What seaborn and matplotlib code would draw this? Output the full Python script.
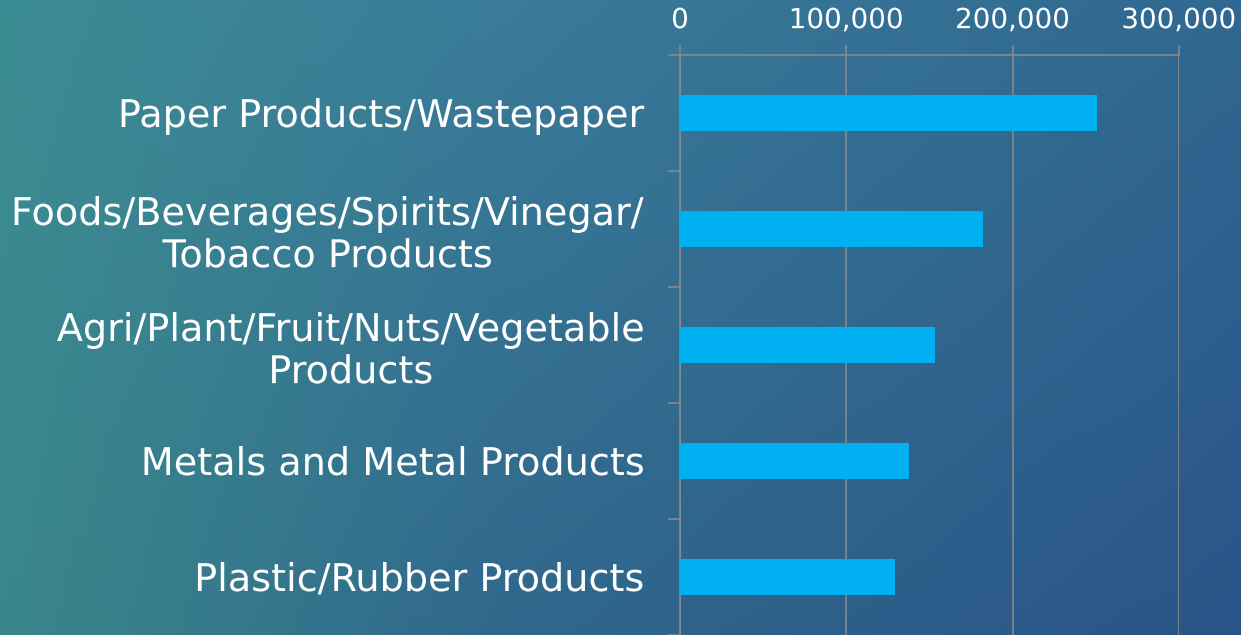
import numpy as np
import pandas as pd
import matplotlib
matplotlib.use("Agg")
import matplotlib.pyplot as plt
import matplotlib.patheffects as pe
from matplotlib.ticker import FuncFormatter
import seaborn as sns

categories = [
    "Paper Products/Wastepaper",
    "Foods/Beverages/Spirits/Vinegar/\nTobacco Products",
    "Agri/Plant/Fruit/Nuts/Vegetable\nProducts",
    "Metals and Metal Products",
    "Plastic/Rubber Products",
]
values = [251000, 182000, 153500, 137500, 129000]
x_ticks = [0, 100000, 200000, 300000]

df = pd.DataFrame({"category": categories, "value": values})

sns.set_theme(style="white")
plt.rcParams["font.family"] = ["DejaVu Sans"]

fig = plt.figure(figsize=(12.41, 6.35), dpi=100)

# background gradient
bg = fig.add_axes([0, 0, 1, 1], zorder=-10)
bg.axis("off")
h, w = 200, 400
xx, yy = np.meshgrid(np.linspace(0, 1, w), np.linspace(0, 1, h))
top_stops = np.array([[60, 140, 148], [58, 124, 153], [48, 104, 145]]) / 255.0
bot_stops = np.array([[58, 135, 138], [48, 104, 140], [42, 84, 136]]) / 255.0
pos = np.array([0.0, 0.4, 1.0])

def interp(stops, x):
    out = np.zeros(x.shape + (3,))
    for c in range(3):
        out[..., c] = np.interp(x, pos, stops[:, c])
    return out

top = interp(top_stops, xx)
bot = interp(bot_stops, xx)
img = top * (1 - yy[..., None]) + bot * yy[..., None]
bg.imshow(np.clip(img, 0, 1), aspect="auto", extent=[0, 1, 0, 1], origin="upper")

ax = fig.add_axes([680 / 1241, 0.0, (1179 - 680) / 1241, 1 - 55 / 635])
ax.patch.set_alpha(0)

sns.barplot(data=df, x="value", y="category", orient="h", color="#00B0F0",
            saturation=1, width=0.31, linewidth=0, ax=ax, zorder=3)

ax.set_xlim(0, 300000)
ax.set_ylim(4.5, -0.5)
ax.set_xlabel("")
ax.set_ylabel("")
ax.xaxis.tick_top()
ax.set_xticks(x_ticks)
ax.xaxis.set_major_formatter(FuncFormatter(lambda v, p: f"{int(v):,}"))
ax.grid(axis="x", color="#8c8c8c", linewidth=1.1, zorder=0)
ax.set_axisbelow(True)

gray = "#8c8c8c"
for s in ["right", "bottom"]:
    ax.spines[s].set_visible(False)
for s in ["left", "top"]:
    ax.spines[s].set_color(gray)
    ax.spines[s].set_linewidth(1.1)

ax.tick_params(axis="x", which="major", top=True, bottom=False, length=7,
               width=1.1, color=gray, labelsize=20, pad=8,
               labeltop=True, labelbottom=False, labelcolor="white")
ax.set_yticks(np.arange(len(categories)))
ax.set_yticks(np.arange(-0.5, len(categories)), minor=True)
ax.tick_params(axis="y", which="major", length=0, pad=25, labelsize=27.5,
               labelcolor="white")
ax.tick_params(axis="y", which="minor", left=True, length=9, width=1.1, color=gray)

eff = [pe.SimpleLineShadow(offset=(1.2, -1.2), shadow_color="black", alpha=0.3), pe.Normal()]
for lab in ax.get_yticklabels():
    lab.set_multialignment("center")
    lab.set_linespacing(1.22)
    lab.set_path_effects(eff)
for lab in ax.get_xticklabels():
    lab.set_path_effects(eff)

fig.savefig("out.png", dpi=100)
